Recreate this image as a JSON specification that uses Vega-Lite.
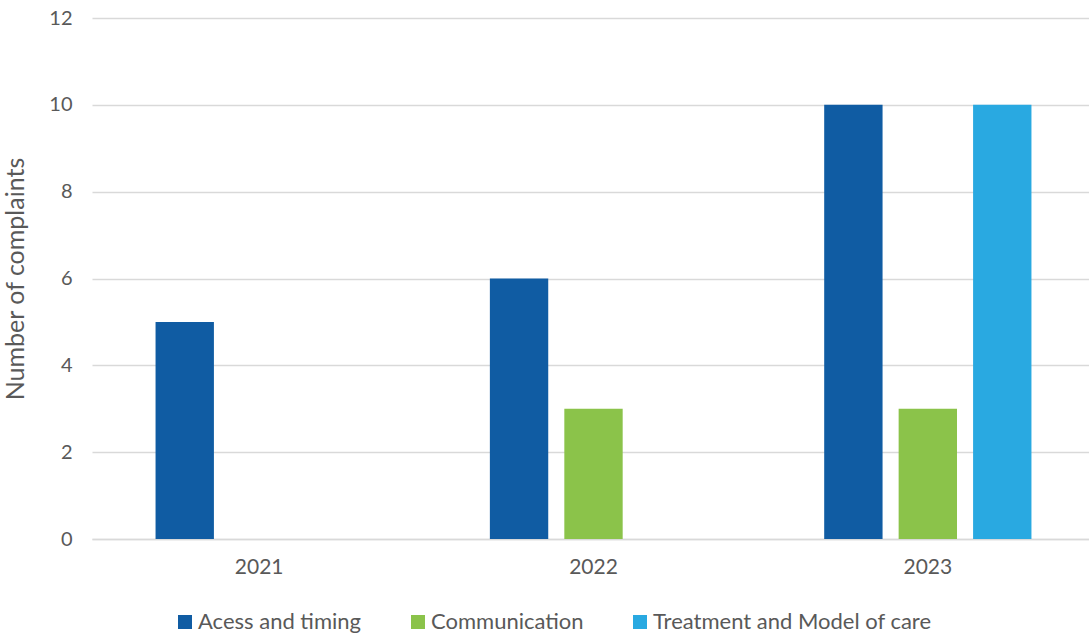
{
  "$schema": "https://vega.github.io/schema/vega-lite/v6.json",
  "width": 1003,
  "height": 521,
  "autosize": {"type": "none"},
  "padding": {"left": 92, "top": 18, "right": 0, "bottom": 94},
  "background": "white",
  "config": {
    "font": "Lato",
    "view": {"stroke": null}
  },
  "data": {
    "values": [
      {"year": "2021", "category": "Acess and timing", "complaints": 5},
      {"year": "2022", "category": "Acess and timing", "complaints": 6},
      {"year": "2022", "category": "Communication", "complaints": 3},
      {"year": "2023", "category": "Acess and timing", "complaints": 10},
      {"year": "2023", "category": "Communication", "complaints": 3},
      {"year": "2023", "category": "Treatment and Model of care", "complaints": 10}
    ]
  },
  "mark": {"type": "bar"},
  "encoding": {
    "x": {
      "field": "year",
      "type": "nominal",
      "scale": {"paddingInner": 0.3333, "paddingOuter": 0.1667},
      "axis": {
        "title": null,
        "labelAngle": 0,
        "labelFontSize": 21,
        "labelColor": "#595959",
        "labelPadding": 17,
        "ticks": false,
        "domain": true,
        "domainColor": "#d9d9d9",
        "domainWidth": 1.5,
        "grid": false
      }
    },
    "xOffset": {
      "field": "category",
      "type": "nominal",
      "scale": {
        "domain": ["Acess and timing", "Communication", "Treatment and Model of care"],
        "paddingInner": 0.216,
        "paddingOuter": 0.105
      }
    },
    "y": {
      "field": "complaints",
      "type": "quantitative",
      "scale": {"domain": [0, 12]},
      "axis": {
        "title": "Number of complaints",
        "titleFontSize": 25,
        "titleFontWeight": "normal",
        "titleColor": "#595959",
        "titlePadding": 20,
        "values": [0, 2, 4, 6, 8, 10, 12],
        "labelFontSize": 20,
        "labelColor": "#595959",
        "labelPadding": 20,
        "ticks": false,
        "domain": false,
        "grid": true,
        "gridColor": "#d9d9d9",
        "gridWidth": 1.5
      }
    },
    "color": {
      "field": "category",
      "type": "nominal",
      "scale": {
        "domain": ["Acess and timing", "Communication", "Treatment and Model of care"],
        "range": ["#105CA3", "#8BC34A", "#29A9E1"]
      },
      "legend": {
        "title": null,
        "orient": "none",
        "direction": "horizontal",
        "legendX": 82,
        "legendY": 593,
        "symbolType": "square",
        "symbolSize": 196,
        "symbolStrokeWidth": 0,
        "symbolOpacity": 1,
        "labelFontSize": 22,
        "labelLimit": 0,
        "labelColor": "#595959",
        "labelOffset": 2,
        "columnPadding": 45
      }
    }
  }
}
